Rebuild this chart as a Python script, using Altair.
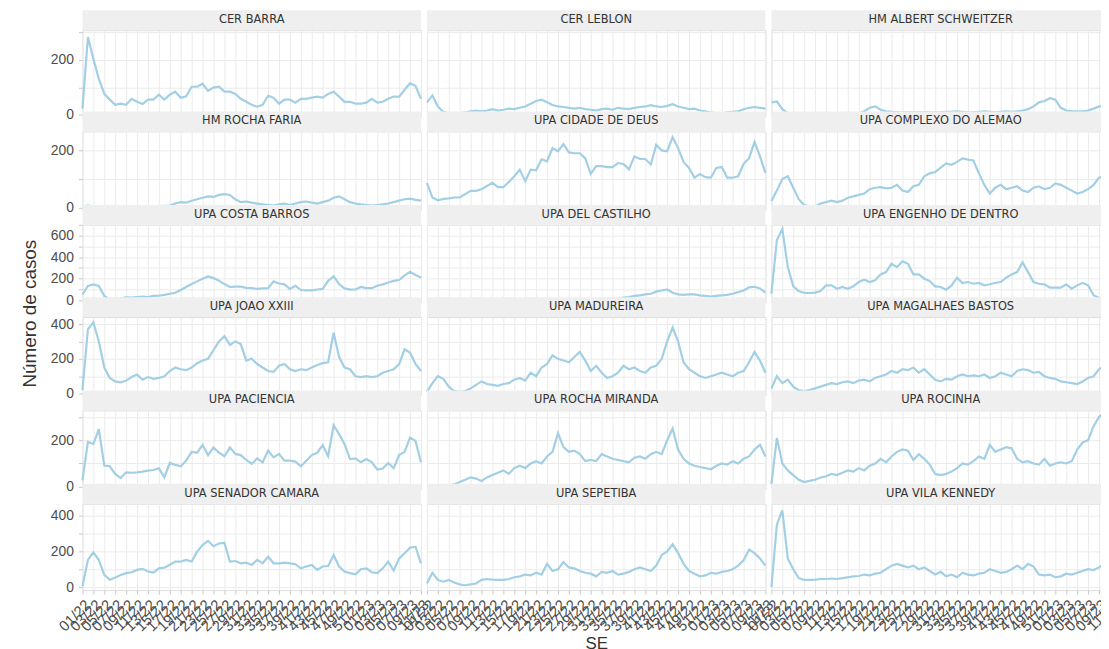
import altair as alt
import pandas as pd

# ---------------- data ----------------
semanas = [
    "01/22", "02/22", "03/22", "04/22", "05/22", "06/22", "07/22", "08/22", "09/22", "10/22",
    "11/22", "12/22", "13/22", "14/22", "15/22", "16/22", "17/22", "18/22", "19/22", "20/22",
    "21/22", "22/22", "23/22", "24/22", "25/22", "26/22", "27/22", "28/22", "29/22", "30/22",
    "31/22", "32/22", "33/22", "34/22", "35/22", "36/22", "37/22", "38/22", "39/22", "40/22",
    "41/22", "42/22", "43/22", "44/22", "45/22", "46/22", "47/22", "48/22", "49/22", "50/22",
    "51/22", "52/22", "01/23", "02/23", "03/23", "04/23", "05/23", "06/23", "07/23", "08/23",
    "09/23", "10/23", "11/23",
]
semanas_rotulo = semanas[::2]

unidades = [
    "CER BARRA", "CER LEBLON", "HM ALBERT SCHWEITZER",
    "HM ROCHA FARIA", "UPA CIDADE DE DEUS", "UPA COMPLEXO DO ALEMAO",
    "UPA COSTA BARROS", "UPA DEL CASTILHO", "UPA ENGENHO DE DENTRO",
    "UPA JOAO XXIII", "UPA MADUREIRA", "UPA MAGALHAES BASTOS",
    "UPA PACIENCIA", "UPA ROCHA MIRANDA", "UPA ROCINHA",
    "UPA SENADOR CAMARA", "UPA SEPETIBA", "UPA VILA KENNEDY",
]

cer_barra = [22, 284, 204, 131, 76, 55, 36, 40, 36, 58, 47, 39, 55, 55, 73, 55, 73, 84, 62, 67,
             102, 102, 113, 87, 99, 102, 84, 84, 76, 58, 47, 36, 29, 36, 69, 62, 40, 55, 55, 44,
             58, 58, 62, 66, 62, 76, 84, 66, 47, 47, 40, 40, 44, 58, 44, 47, 58, 66, 66, 91,
             115, 105, 58]
cer_leblon = [45, 70, 30, 10, 5, 5, 5, 8, 12, 15, 12, 15, 20, 15, 18, 22, 20, 25, 30, 40,
              50, 55, 45, 35, 30, 28, 25, 22, 25, 20, 18, 15, 20, 22, 18, 25, 22, 20, 25, 28,
              30, 35, 30, 28, 32, 38, 30, 25, 20, 22, 15, 12, 8, 5, 5, 8, 10, 12, 20, 25,
              28, 25, 22]
hm_albert = [45, 48, 20, 5, 3, 2, 2, 2, 2, 2, 2, 5, 5, 5, 5, 5, 5, 12, 25, 30,
             18, 12, 10, 8, 8, 8, 8, 8, 8, 8, 8, 8, 10, 10, 12, 10, 8, 8, 10, 12,
             10, 8, 10, 12, 10, 12, 15, 20, 30, 45, 50, 60, 55, 25, 15, 12, 12, 12, 15, 22,
             30, 30, 28]
hm_rocha_faria = [5, 8, 5, 4, 3, 3, 4, 5, 4, 3, 4, 5, 6, 5, 6, 7, 8, 15, 20, 18,
                  25, 30, 35, 40, 38, 45, 48, 45, 30, 20, 22, 18, 15, 12, 10, 8, 12, 15, 10, 15,
                  20, 22, 18, 15, 20, 25, 35, 40, 30, 20, 15, 12, 10, 8, 10, 12, 15, 20, 25, 30,
                  32, 28, 25]
cidade_de_deus = [87, 36, 26, 31, 33, 36, 36, 48, 59, 59, 65, 76, 87, 72, 72, 90, 110, 133, 93, 133,
                  131, 169, 162, 208, 197, 222, 193, 190, 190, 172, 118, 145, 145, 142, 142, 156, 153, 134, 179, 170,
                  170, 151, 219, 200, 197, 246, 208, 160, 139, 105, 118, 107, 105, 139, 142, 105, 105, 110, 153, 173,
                  229, 179, 122]
complexo_alemao = [24, 60, 100, 110, 70, 30, 10, 5, 5, 15, 20, 25, 20, 25, 35, 40, 45, 50, 65, 70,
                   72, 68, 70, 80, 60, 55, 75, 80, 110, 120, 125, 140, 155, 150, 160, 172, 168, 165, 120, 80,
                   50, 70, 80, 65, 70, 75, 60, 55, 70, 75, 65, 70, 85, 80, 70, 60, 50, 55, 65, 80,
                   105, 110, 100]
costa_barros = [53, 133, 147, 133, 40, 5, 8, 15, 28, 25, 30, 35, 30, 40, 42, 50, 60, 70, 95, 123,
                150, 175, 200, 221, 205, 182, 150, 123, 126, 126, 115, 112, 105, 110, 112, 175, 155, 147, 105, 133,
                95, 91, 91, 100, 105, 180, 221, 150, 110, 98, 100, 123, 112, 112, 135, 147, 165, 180, 188, 230,
                263, 235, 210]
del_castilho = [3, 2, 2, 2, 3, 3, 2, 2, 3, 3, 3, 3, 4, 4, 3, 3, 4, 4, 5, 5,
                4, 5, 5, 6, 6, 5, 6, 7, 8, 8, 10, 10, 12, 12, 15, 18, 25, 30, 40, 45,
                55, 60, 80, 90, 100, 70, 55, 50, 55, 55, 45, 40, 35, 40, 45, 50, 60, 75, 90, 120,
                125, 110, 70]
engenho_dentro = [62, 559, 661, 307, 129, 86, 67, 67, 71, 86, 138, 138, 107, 123, 107, 129, 169, 190, 169, 185,
                  240, 261, 338, 307, 362, 338, 240, 240, 200, 178, 129, 123, 98, 138, 209, 160, 169, 153, 160, 138,
                  148, 160, 169, 209, 240, 261, 353, 261, 169, 153, 148, 117, 117, 117, 148, 107, 138, 160, 138, 46,
                  20, 10, 5]
joao_xxiii = [20, 370, 410, 300, 150, 90, 70, 65, 75, 95, 110, 80, 95, 85, 90, 100, 130, 150, 140, 135,
              150, 175, 190, 200, 250, 300, 330, 280, 300, 285, 190, 200, 170, 150, 130, 125, 160, 170, 140, 130,
              140, 135, 150, 165, 175, 180, 350, 210, 150, 140, 100, 95, 100, 95, 100, 120, 130, 140, 170, 255,
              235, 170, 130]
madureira = [10, 60, 100, 85, 40, 15, 10, 15, 30, 50, 70, 55, 50, 45, 55, 60, 80, 90, 75, 120,
             100, 150, 170, 220, 200, 190, 180, 210, 240, 190, 130, 160, 120, 90, 100, 120, 160, 140, 150, 130,
             120, 150, 160, 200, 300, 380, 300, 180, 140, 120, 100, 90, 100, 110, 120, 110, 100, 120, 130, 180,
             240, 190, 120]
magalhaes_bastos = [30, 100, 60, 80, 40, 20, 15, 20, 30, 40, 50, 60, 55, 65, 70, 60, 75, 80, 70, 90,
                    100, 110, 130, 120, 140, 135, 150, 120, 140, 110, 80, 70, 85, 80, 100, 110, 100, 105, 100, 110,
                    90, 100, 120, 110, 100, 130, 140, 135, 120, 125, 100, 90, 85, 70, 65, 60, 55, 70, 90, 100,
                    140, 160, 170]
paciencia = [27, 193, 183, 247, 91, 88, 55, 37, 62, 60, 62, 65, 69, 72, 79, 41, 102, 94, 88, 112,
             150, 146, 179, 136, 169, 146, 131, 169, 141, 136, 115, 98, 122, 105, 155, 126, 141, 112, 112, 108,
             88, 112, 136, 146, 179, 131, 264, 226, 183, 119, 122, 105, 119, 105, 74, 78, 102, 80, 136, 150,
             211, 197, 105]
rocha_miranda = [5, 3, 3, 5, 5, 10, 20, 30, 40, 35, 25, 40, 50, 60, 70, 55, 80, 90, 80, 100,
                 110, 100, 130, 150, 230, 170, 150, 155, 140, 110, 115, 110, 140, 130, 120, 115, 110, 105, 125, 130,
                 120, 140, 150, 140, 200, 250, 160, 120, 100, 90, 85, 80, 75, 90, 100, 95, 110, 100, 120, 130,
                 160, 180, 130]
rocinha = [10, 210, 100, 70, 50, 30, 20, 25, 30, 40, 45, 55, 50, 60, 70, 65, 80, 70, 90, 100,
           120, 105, 130, 150, 160, 155, 115, 140, 120, 95, 55, 50, 55, 65, 80, 100, 95, 110, 130, 120,
           180, 150, 160, 170, 165, 120, 105, 110, 100, 95, 120, 90, 100, 105, 100, 110, 160, 190, 200, 260,
           300, 320, 320]
senador_camara = [4, 152, 194, 152, 68, 41, 54, 68, 78, 83, 96, 102, 87, 81, 105, 109, 125, 143, 143, 152,
                  143, 198, 235, 259, 229, 244, 248, 143, 146, 133, 137, 124, 152, 133, 170, 133, 133, 137, 133, 128,
                  105, 115, 124, 96, 115, 118, 180, 115, 87, 78, 72, 100, 105, 83, 78, 105, 143, 93, 161, 189,
                  220, 226, 133]
sepetiba = [20, 80, 40, 30, 40, 25, 15, 10, 15, 20, 40, 45, 42, 40, 40, 45, 55, 60, 70, 65,
            80, 70, 130, 90, 100, 140, 110, 105, 90, 80, 75, 60, 85, 80, 90, 70, 75, 85, 100, 110,
            100, 90, 120, 180, 200, 240, 190, 130, 90, 75, 60, 65, 80, 75, 85, 90, 100, 120, 150, 210,
            190, 160, 120]
vila_kennedy = [0, 350, 430, 160, 100, 50, 40, 40, 42, 45, 45, 48, 45, 50, 55, 60, 62, 70, 65, 75,
                80, 100, 120, 130, 120, 110, 120, 100, 110, 90, 70, 85, 60, 70, 55, 80, 70, 65, 75, 80,
                100, 90, 80, 85, 100, 120, 100, 130, 115, 70, 65, 70, 55, 60, 75, 70, 80, 90, 100, 95,
                110, 130, 120]

series = [
    cer_barra, cer_leblon, hm_albert,
    hm_rocha_faria, cidade_de_deus, complexo_alemao,
    costa_barros, del_castilho, engenho_dentro,
    joao_xxiii, madureira, magalhaes_bastos,
    paciencia, rocha_miranda, rocinha,
    senador_camara, sepetiba, vila_kennedy,
]

# per-row y ranges, gridlines and panel heights (layout only)
row_domains = [[-7, 309], [-7, 266], [-18, 700], [-11, 440], [-9, 328], [-17, 467]]
row_grid = [[0, 100, 200, 300], [0, 100, 200], [0, 100, 200, 300, 400, 500, 600, 700],
            [0, 100, 200, 300, 400], [0, 100, 200, 300], [0, 100, 200, 300, 400]]
row_heights = [87, 79, 78, 79, 79, 87]

W = 341
LINE = "#a3cfe4"
GRID = "#ebebeb"
FONT = "DejaVu Sans"


def panel(idx):
    name = unidades[idx]
    vals = series[idx]
    r, c = divmod(idx, 3)
    df = pd.DataFrame({"SE": semanas[:len(vals)], "casos": vals})
    bottom = r == 5
    left = c == 0

    if bottom:
        xaxis = alt.Axis(values=semanas_rotulo, grid=True, gridColor=GRID, domain=False,
                         labels=True, ticks=True, tickColor="#c8c8c8", tickSize=4,
                         labelAngle=-45, labelOverlap=False, labelPadding=3,
                         labelFontSize=15, labelColor="#4d4d4d",
                         title="SE" if c == 1 else None, titleFontSize=17,
                         titleFontWeight="normal", titleColor="#333333", titlePadding=2)
    else:
        xaxis = alt.Axis(values=semanas_rotulo, grid=True, gridColor=GRID, domain=False,
                         labels=False, ticks=False, title=None)

    if left:
        yaxis = alt.Axis(values=row_grid[r], grid=True, gridColor=GRID, domain=False,
                         labels=True, ticks=True, tickColor="#c8c8c8", tickSize=4,
                         labelExpr="datum.value % 200 == 0 ? datum.label : ''",
                         labelFontSize=14, labelColor="#4d4d4d", labelPadding=5,
                         title="Número de casos" if r == 2 else None,
                         titleFontSize=19, titleFontWeight="normal", titleColor="#333333",
                         titleX=-43, titleY=89)
    else:
        yaxis = alt.Axis(values=row_grid[r], grid=True, gridColor=GRID, domain=False,
                         labels=False, ticks=False, title=None)

    line = alt.Chart(df).mark_line(color=LINE, strokeWidth=2.2).encode(
        x=alt.X("SE:O", sort=semanas,
                scale=alt.Scale(type="point", domain=semanas, padding=0), axis=xaxis),
        y=alt.Y("casos:Q", scale=alt.Scale(domain=row_domains[r], nice=False, zero=False),
                axis=yaxis),
    )
    strip_df = pd.DataFrame({"unidade": [name]})
    strip = alt.Chart(strip_df).mark_rect(color="#efefef").encode(
        x=alt.value(0), x2=alt.value(W), y=alt.value(-20), y2=alt.value(0))
    label = alt.Chart(strip_df).mark_text(font=FONT, fontSize=11.5, color="#333333",
                                          baseline="middle", align="center").encode(
        text="unidade:N", x=alt.value(W / 2), y=alt.value(-10))
    return alt.layer(line, strip, label).properties(width=W, height=row_heights[r])


chart = alt.concat(*[panel(i) for i in range(18)], columns=3,
                   spacing={"row": 15, "column": 6}, bounds="flush", align="each").properties(
    autosize=alt.AutoSizeParams(type="none"),
    padding={"left": 75, "top": 20, "right": 1026, "bottom": 621},
).configure_view(stroke="#d4d4d4", strokeWidth=1).configure_axis(
    labelFont=FONT, titleFont=FONT
).configure(background="white")

chart.save("out.html", embed_options={"renderer": "svg", "actions": False})
